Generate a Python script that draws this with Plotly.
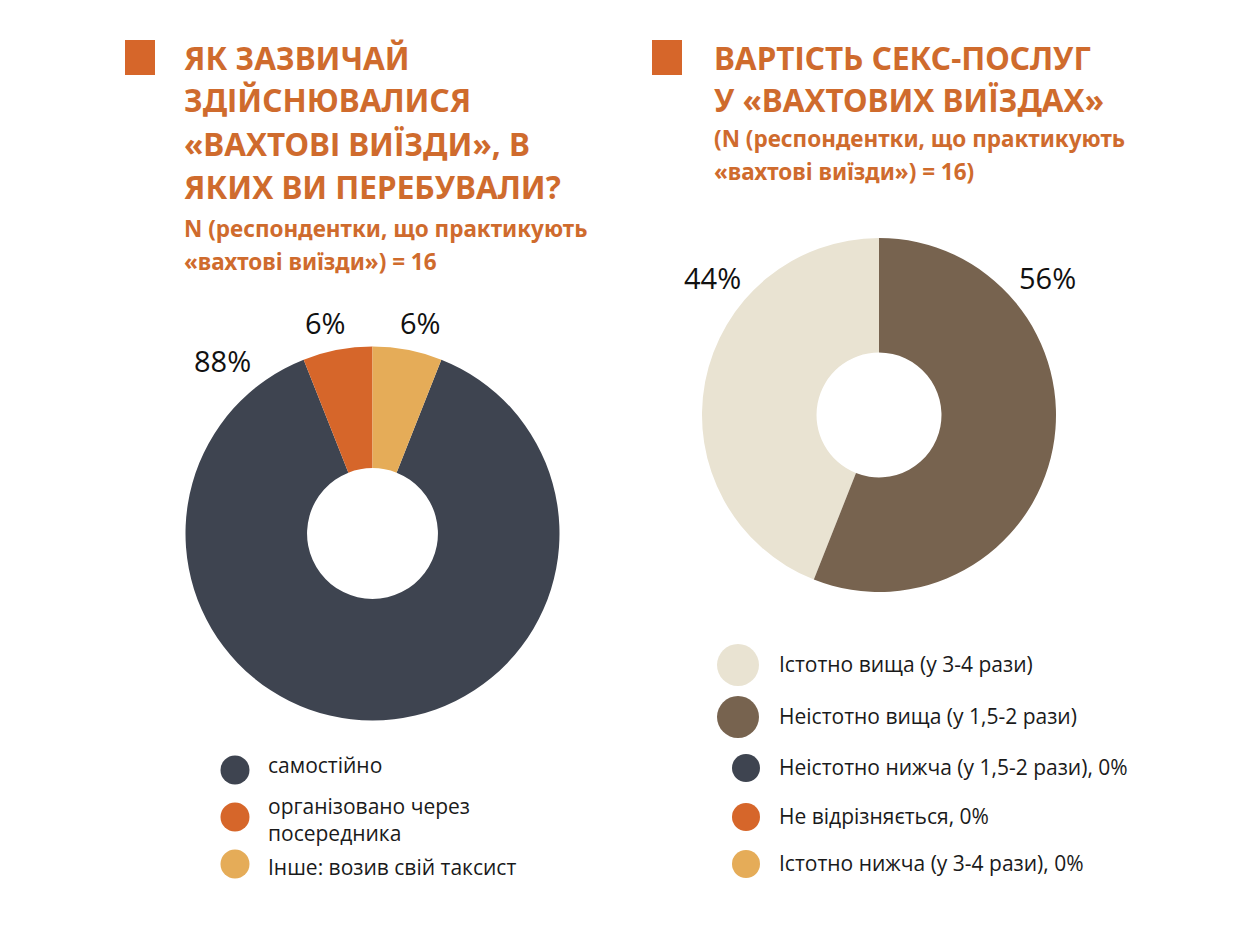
import plotly.graph_objects as go

W, H = 1250, 937

# ---------------- data ----------------
left_labels = ["самостійно", "організовано через<br>посередника", "Інше: возив свій таксист"]
left_values = [88, 6, 6]
left_colors = ["#3e4450", "#d6662a", "#e5ac58"]

right_labels = [
    "Істотно вища (у 3-4 рази)",
    "Неістотно вища (у 1,5-2 рази)",
    "Неістотно нижча (у 1,5-2 рази), 0%",
    "Не відрізняється, 0%",
    "Істотно нижча (у 3-4 рази), 0%",
]
right_values = [44, 56, 0, 0, 0]
right_colors = ["#e9e3d2", "#77634f", "#3e4450", "#d6662a", "#e5ac58"]

left_title = ["ЯК ЗАЗВИЧАЙ", "ЗДІЙСНЮВАЛИСЯ", "«ВАХТОВІ ВИЇЗДИ», В", "ЯКИХ ВИ ПЕРЕБУВАЛИ?"]
left_sub = ["N (респондентки, що практикують", "«вахтові виїзди») = 16"]
right_title = ["ВАРТІСТЬ СЕКС-ПОСЛУГ", "У «ВАХТОВИХ ВИЇЗДАХ»"]
right_sub = ["(N (респондентки, що практикують", "«вахтові виїзди») = 16)"]

TITLE_COLOR = "#cf6b2d"
TITLE_FONT = "Noto Sans, sans-serif"
BODY_FONT = "Open Sans, Lato, sans-serif"


def px(x):
    return x / W


def py(y):
    return 1 - y / H


fig = go.Figure()

# left donut
fig.add_trace(go.Pie(
    labels=left_labels, values=left_values, sort=False,
    direction="clockwise", rotation=21.6, hole=0.35,
    marker=dict(colors=left_colors, line=dict(width=0)),
    textinfo="none", hoverinfo="label+percent", showlegend=False,
    domain=dict(x=[px(185.5), px(559.5)], y=[py(720.5), py(346.5)]),
))

# right donut
fig.add_trace(go.Pie(
    labels=right_labels, values=right_values, sort=False,
    direction="clockwise", rotation=201.6, hole=0.353,
    marker=dict(colors=right_colors, line=dict(width=0)),
    textinfo="none", hoverinfo="label+percent", showlegend=False,
    domain=dict(x=[px(702), px(1056)], y=[py(592), py(238)]),
))

ann = []
shapes = []


def title_block(x, square_x, lines, sublines, y0, sub_y0):
    shapes.append(dict(type="rect", xref="paper", yref="paper",
                       x0=px(square_x), x1=px(square_x + 30), y0=py(75), y1=py(40),
                       fillcolor="#d6662a", line=dict(width=0)))
    for i, t in enumerate(lines):
        ann.append(dict(x=px(x), y=py(y0 + 43 * i), xref="paper", yref="paper",
                        text=f"<b>{t}</b>", showarrow=False, xanchor="left", yanchor="middle",
                        font=dict(family=TITLE_FONT, size=31.5, color=TITLE_COLOR)))
    for i, t in enumerate(sublines):
        ann.append(dict(x=px(x), y=py(sub_y0 + 32 * i), xref="paper", yref="paper",
                        text=f"<b>{t}</b>", showarrow=False, xanchor="left", yanchor="middle",
                        font=dict(family=TITLE_FONT, size=22.5, color=TITLE_COLOR)))


title_block(182, 125, left_title, left_sub, 57, 229)
title_block(712, 652, right_title, right_sub, 57, 139)

# percentage labels
left_label_pos = [(222, 360), (325, 322), (420, 322)]
for v, (lx, ly) in zip(left_values, left_label_pos):
    ann.append(dict(x=px(lx), y=py(ly), xref="paper", yref="paper", text=f"{v}%",
                    showarrow=False, xanchor="center", yanchor="middle",
                    font=dict(family=BODY_FONT, size=29, color="#111111")))
right_label_pos = [(712, 277), (1047, 277)]
for v, (lx, ly) in zip(right_values[:2], right_label_pos):
    ann.append(dict(x=px(lx), y=py(ly), xref="paper", yref="paper", text=f"{v}%",
                    showarrow=False, xanchor="center", yanchor="middle",
                    font=dict(family=BODY_FONT, size=29, color="#111111")))


def legend_item(cx, cy, r, color, text, tx, ty):
    shapes.append(dict(type="circle", xref="paper", yref="paper",
                       x0=px(cx - r), x1=px(cx + r), y0=py(cy + r), y1=py(cy - r),
                       fillcolor=color, line=dict(width=0)))
    ann.append(dict(x=px(tx), y=py(ty), xref="paper", yref="paper", text=text,
                    showarrow=False, xanchor="left", yanchor="middle", align="left",
                    font=dict(family=BODY_FONT, size=21, color="#1a1a1a")))


left_leg_y = [770, 817, 864]
left_text_y = [765, 819, 867]
for lab, col, cy, ty in zip(left_labels, left_colors, left_leg_y, left_text_y):
    legend_item(235, cy, 14.5, col, lab, 266, ty)

right_leg_y = [665, 717, 768, 817, 864]
right_leg_r = [21, 21, 14, 14, 14]
right_leg_x = [738, 738, 746, 746, 746]
for lab, col, cy, r, cx in zip(right_labels, right_colors, right_leg_y, right_leg_r, right_leg_x):
    legend_item(cx, cy, r, col, lab, 777, cy - 1)

fig.update_layout(
    width=W, height=H, margin=dict(l=0, r=0, t=0, b=0),
    paper_bgcolor="white", plot_bgcolor="white",
    annotations=ann, shapes=shapes, showlegend=False,
)

fig.write_html("out.html")
